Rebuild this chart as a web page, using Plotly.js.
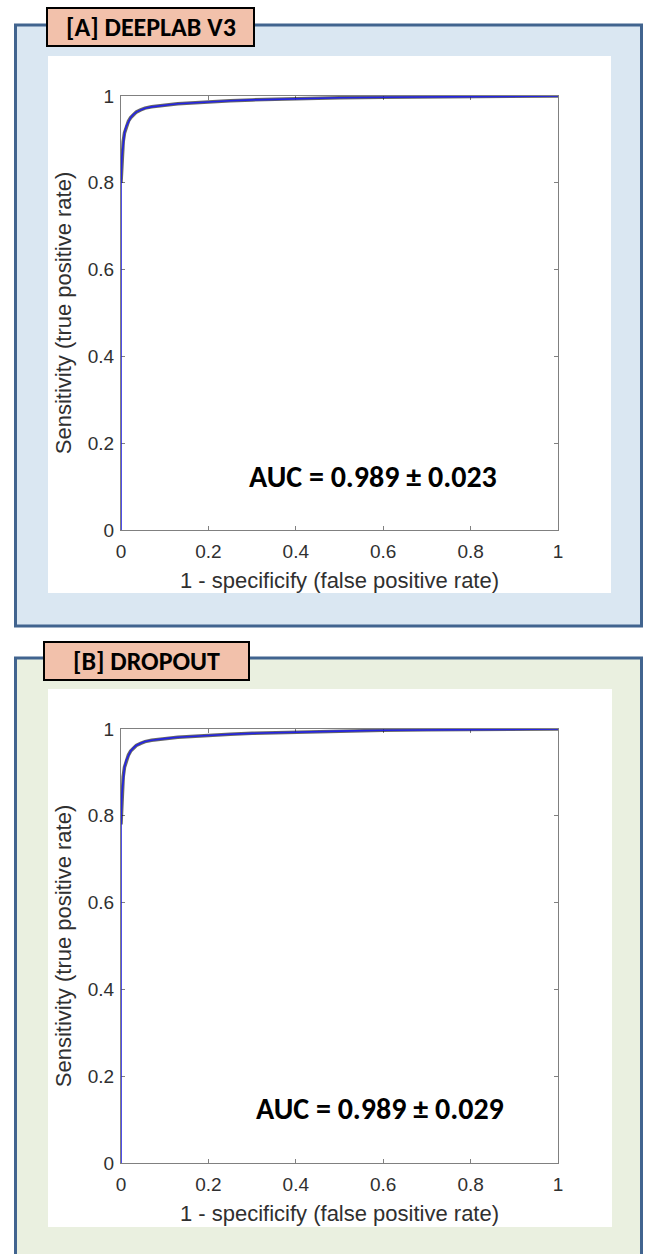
<!DOCTYPE html>
<html>
<head>
<meta charset="utf-8">
<script src="https://cdn.plot.ly/plotly-3.0.1.min.js"></script>
<style>html,body{margin:0;padding:0;background:#fff;}#chart{width:646px;height:1254px;}</style>
</head>
<body>
<div id="chart"></div>
<script>
// ---- data ----
const panelTitles = ["[A] DEEPLAB V3", "[B] DROPOUT"];
const aucLabels = ["AUC = 0.989 \u00b1 0.023", "AUC = 0.989 \u00b1 0.029"];
const xTitle = "1 - specificify (false positive rate)";
const yTitle = "Sensitivity (true positive rate)";
const tickVals = [0, 0.2, 0.4, 0.6, 0.8, 1];
const tickText = ["0", "0.2", "0.4", "0.6", "0.8", "1"];

const fpr = [0, 0, 0.002, 0.005, 0.008, 0.012, 0.017, 0.022, 0.028, 0.035, 0.045, 0.055, 0.07, 0.09, 0.11, 0.13, 0.16, 0.2, 0.25, 0.3, 0.4, 0.5, 0.6, 0.7, 0.8, 0.9, 1.0];
const tprA = [0, 0.80, 0.86, 0.895, 0.915, 0.93, 0.942, 0.95, 0.957, 0.963, 0.968, 0.972, 0.975, 0.978, 0.980, 0.982, 0.984, 0.987, 0.989, 0.991, 0.994, 0.996, 0.997, 0.998, 0.999, 0.9995, 1.0];
const tprB = [0, 0.78, 0.85, 0.89, 0.912, 0.928, 0.940, 0.949, 0.956, 0.962, 0.967, 0.971, 0.974, 0.977, 0.979, 0.981, 0.983, 0.986, 0.988, 0.990, 0.993, 0.995, 0.997, 0.998, 0.999, 0.9995, 1.0];

// ---- layout helpers (pixel -> paper) ----
const W = 646, H = 1254;
const px = v => v / W;
const py = v => 1 - v / H;

function rect(x0, y0, x1, y1, fill, line, lw) {
  return {type: 'rect', xref: 'paper', yref: 'paper', x0: px(x0), x1: px(x1), y0: py(y1), y1: py(y0),
          fillcolor: fill, line: {color: line, width: lw}, layer: 'below'};
}

const tickFont = {family: 'Liberation Sans, Arial, sans-serif', size: 19, color: '#303030'};
const titleFont = {family: 'Liberation Sans, Arial, sans-serif', size: 22, color: '#303030'};

function axis(domain, isX) {
  return {
    domain: domain, range: [0, 1], tickvals: tickVals, ticktext: tickText,
    showgrid: false, zeroline: false, showline: true, mirror: 'ticks',
    ticks: 'inside', ticklen: 4, tickcolor: '#808080', linecolor: '#808080', linewidth: 1,
    tickfont: tickFont, fixedrange: true, ticklabelstandoff: isX ? 4 : 2, layer: 'below traces',
    title: {text: isX ? xTitle : yTitle, font: titleFont, standoff: isX ? 11 : 10}
  };
}

const traces = [];
[[tprA, 'x', 'y'], [tprB, 'x2', 'y2']].forEach(([tpr, xa, ya]) => {
  traces.push({x: fpr.slice(1), y: tpr.slice(1), xaxis: xa, yaxis: ya, mode: 'lines',
               line: {color: 'rgba(0,0,0,0.6)', width: 3.5}, hoverinfo: 'skip', showlegend: false});
  traces.push({x: fpr, y: tpr, xaxis: xa, yaxis: ya, mode: 'lines',
               line: {color: 'rgb(35,35,230)', width: 1.6}, hoverinfo: 'skip', showlegend: false, cliponaxis: false});
});

const shapes = [
  rect(15.5, 25, 641.5, 626, '#DAE7F2', '#41648F', 3),
  rect(48, 56, 611, 593, '#FFFFFF', 'rgba(0,0,0,0)', 0),
  rect(15.5, 658, 641.5, 1270, '#EAF0E0', '#41648F', 3),
  rect(48, 689, 612, 1227, '#FFFFFF', 'rgba(0,0,0,0)', 0),
  Object.assign(rect(47, 8, 254, 46, '#F2C1AB', '#000000', 2), {layer: 'above'}),
  Object.assign(rect(44, 642, 249, 680, '#F2C1AB', '#000000', 2), {layer: 'above'})
];

const labelFont = {family: 'Carlito, Open Sans, sans-serif', size: 26, color: '#000', weight: 'bold'};
const aucFont = {family: 'Carlito, Open Sans, sans-serif', size: 30, color: '#000', weight: 'bold'};
const annotations = [
  {xref: 'paper', yref: 'paper', x: px(150.5), y: py(27), text: '<b>' + panelTitles[0] + '</b>', showarrow: false, font: labelFont, xanchor: 'center', yanchor: 'middle'},
  {xref: 'paper', yref: 'paper', x: px(146.5), y: py(661), text: '<b>' + panelTitles[1] + '</b>', showarrow: false, font: labelFont, xanchor: 'center', yanchor: 'middle'},
  {xref: 'paper', yref: 'paper', x: px(373), y: py(476), text: '<b>' + aucLabels[0] + '</b>', showarrow: false, font: aucFont, xanchor: 'center', yanchor: 'middle'},
  {xref: 'paper', yref: 'paper', x: px(380), y: py(1108), text: '<b>' + aucLabels[1] + '</b>', showarrow: false, font: aucFont, xanchor: 'center', yanchor: 'middle'}
];

const layout = {
  width: W, height: H, margin: {l: 0, r: 0, t: 0, b: 0},
  paper_bgcolor: '#FFFFFF', plot_bgcolor: '#FFFFFF',
  xaxis: Object.assign(axis([px(121), px(558)], true), {anchor: 'y'}),
  yaxis: Object.assign(axis([py(530), py(96)], false), {anchor: 'x'}),
  xaxis2: Object.assign(axis([px(121), px(558)], true), {anchor: 'y2'}),
  yaxis2: Object.assign(axis([py(1163), py(729)], false), {anchor: 'x2'}),
  shapes: shapes, annotations: annotations, showlegend: false
};

Plotly.newPlot('chart', traces, layout, {displayModeBar: false, staticPlot: true});
</script>
</body>
</html>
